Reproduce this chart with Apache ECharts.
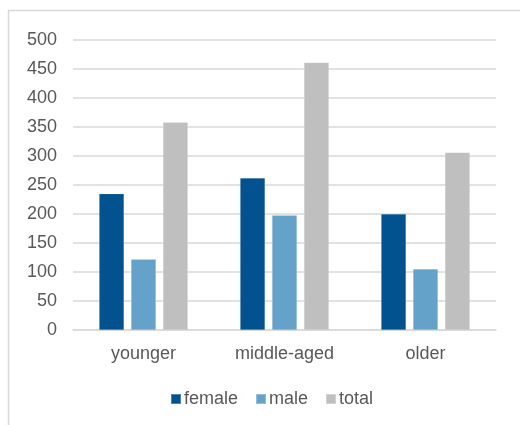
<!DOCTYPE html>
<html>
<head>
<meta charset="utf-8">
<script src="https://cdn.jsdelivr.net/npm/echarts@6/dist/echarts.min.js"></script>
<style>
html,body{margin:0;padding:0;background:#fff;}
#chart{width:520px;height:425px;}
</style>
</head>
<body>
<div id="chart"></div>
<script>
const categories = ['younger', 'middle-aged', 'older'];
const female = [235, 262, 200];
const male = [122, 198, 105];
const total = [358, 461, 306];
const yTicks = { min: 0, max: 500, interval: 50 };

const chart = echarts.init(document.getElementById('chart'), null, { renderer: 'canvas' });
const txt = '#595959';
const font = 'Liberation Sans, Arial, sans-serif';
chart.setOption({
  animation: false,
  backgroundColor: '#ffffff',
  graphic: [{
    type: 'rect',
    shape: { x: 8.5, y: 10.5, width: 600, height: 600 },
    style: { fill: 'none', stroke: '#d9d9d9', lineWidth: 1.5 },
    silent: true
  }],
  grid: { left: 73, right: 24, top: 40, bottom: 95, containLabel: false },
  legend: {
    bottom: 12,
    left: 165,
    itemWidth: 10,
    itemHeight: 10,
    itemGap: 17,
    icon: 'rect',
    textStyle: { color: txt, fontSize: 18, fontFamily: font, padding: [0, 0, 0, -2] },
    data: ['female', 'male', 'total']
  },
  xAxis: {
    type: 'category',
    data: categories,
    axisLine: { lineStyle: { color: '#d9d9d9', width: 1.5 } },
    axisTick: { show: false },
    axisLabel: { color: txt, fontSize: 18, fontFamily: font, margin: 15 }
  },
  yAxis: {
    type: 'value',
    min: yTicks.min,
    max: yTicks.max,
    interval: yTicks.interval,
    axisLine: { show: false },
    axisTick: { show: false },
    splitLine: { lineStyle: { color: '#d9d9d9', width: 1.5 } },
    axisLabel: { color: txt, fontSize: 18, fontFamily: font, margin: 16 }
  },
  series: [
    { name: 'female', type: 'bar', data: female, barGap: '28%', barCategoryGap: '37%',
      itemStyle: { color: '#01528f', borderColor: 'rgba(255,255,255,0.3)', borderWidth: 0.5 } },
    { name: 'male', type: 'bar', data: male,
      itemStyle: { color: '#65a2c9', borderColor: 'rgba(255,255,255,0.3)', borderWidth: 0.5 } },
    { name: 'total', type: 'bar', data: total,
      itemStyle: { color: '#bfbfbf', borderColor: 'rgba(255,255,255,0.3)', borderWidth: 0.5 } }
  ]
});
</script>
</body>
</html>
